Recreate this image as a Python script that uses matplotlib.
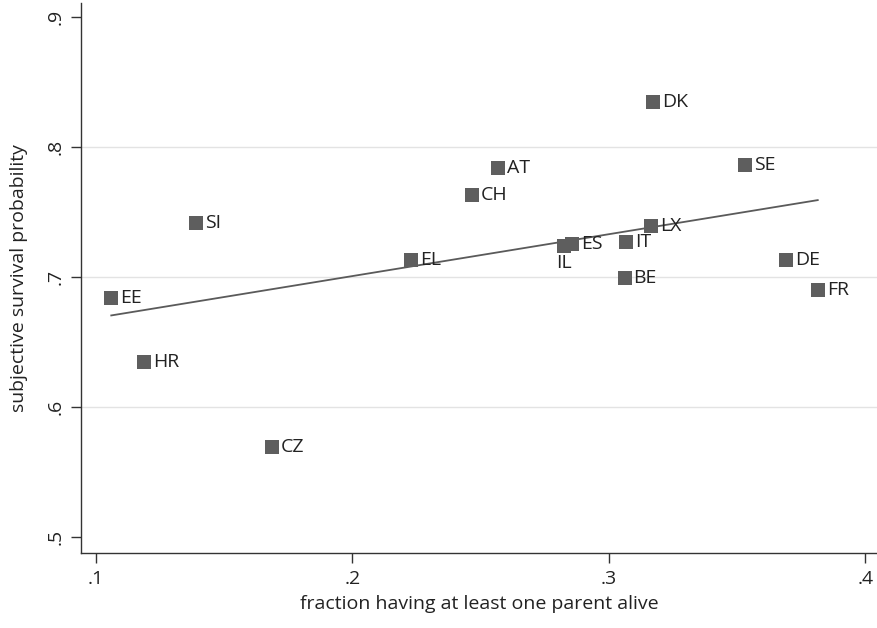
import numpy as np
import matplotlib
matplotlib.use("Agg")
import matplotlib.pyplot as plt

# country-level values
countries = ["DK", "AT", "CH", "SE", "LX", "ES", "IL", "IT", "EL", "DE",
             "BE", "FR", "EE", "SI", "HR", "CZ"]
parent_alive = [0.3172, 0.2567, 0.2465, 0.3531, 0.3163, 0.2857, 0.2826, 0.3066,
                0.2227, 0.3692, 0.3061, 0.3814, 0.1060, 0.1392, 0.1188, 0.1687]
survival_prob = [0.8343, 0.7836, 0.7632, 0.7864, 0.7394, 0.7253, 0.7240, 0.7266,
                 0.7129, 0.7129, 0.6990, 0.6897, 0.6842, 0.7414, 0.6346, 0.5689]
label_below = ["IL"]

xticks = [0.1, 0.2, 0.3, 0.4]
yticks = [0.5, 0.6, 0.7, 0.8, 0.9]
grid_y = [0.6, 0.7, 0.8]

plt.rcParams["font.family"] = ["Open Sans", "DejaVu Sans"]
FS = 14

fig = plt.figure(figsize=(8.77, 6.28), dpi=100)
ax = fig.add_axes([81 / 877, 75 / 628, 796 / 877, 550 / 628])

x = np.array(parent_alive)
y = np.array(survival_prob)

for g in grid_y:
    ax.axhline(g, color="#e3e3e3", lw=1.0, zorder=0)

# linear fit across observed range
b, a = np.polyfit(x, y, 1)
xs = np.array([x.min(), x.max()])
ax.plot(xs, a + b * xs, color="#5a5a5a", lw=1.3, zorder=2)

ax.scatter(x, y, marker="s", s=88, color="#5e5e5e", linewidths=0, zorder=3)

for c, xi, yi in zip(countries, x, y):
    if c in label_below:
        ax.annotate(c, (xi, yi), xytext=(0, -6), textcoords="offset points",
                    ha="center", va="top", fontsize=FS, color="#222222")
    else:
        ax.annotate(c, (xi, yi), xytext=(6.5, 0), textcoords="offset points",
                    ha="left", va="center", fontsize=FS, color="#222222")

ax.set_xlim(0.0942, 0.4045)
ax.set_ylim(0.4877, 0.9108)
ax.set_xticks(xticks)
ax.set_xticklabels([f"{t:.1f}".lstrip("0") for t in xticks])
ax.set_yticks(yticks)
ax.set_yticklabels([f"{t:.1f}".lstrip("0") for t in yticks], rotation=90, va="center")

for s in ["top", "right"]:
    ax.spines[s].set_visible(False)
for s in ["left", "bottom"]:
    ax.spines[s].set_color("#333333")
    ax.spines[s].set_linewidth(1.0)
ax.tick_params(axis="both", length=7, width=1.0, color="#333333",
               labelsize=FS, labelcolor="#222222", pad=5)

ax.set_xlabel("fraction having at least one parent alive", fontsize=FS,
              color="#222222", labelpad=5)
ax.set_ylabel("subjective survival probability", fontsize=FS,
              color="#222222", labelpad=13)

fig.savefig("out.png", dpi=100)
